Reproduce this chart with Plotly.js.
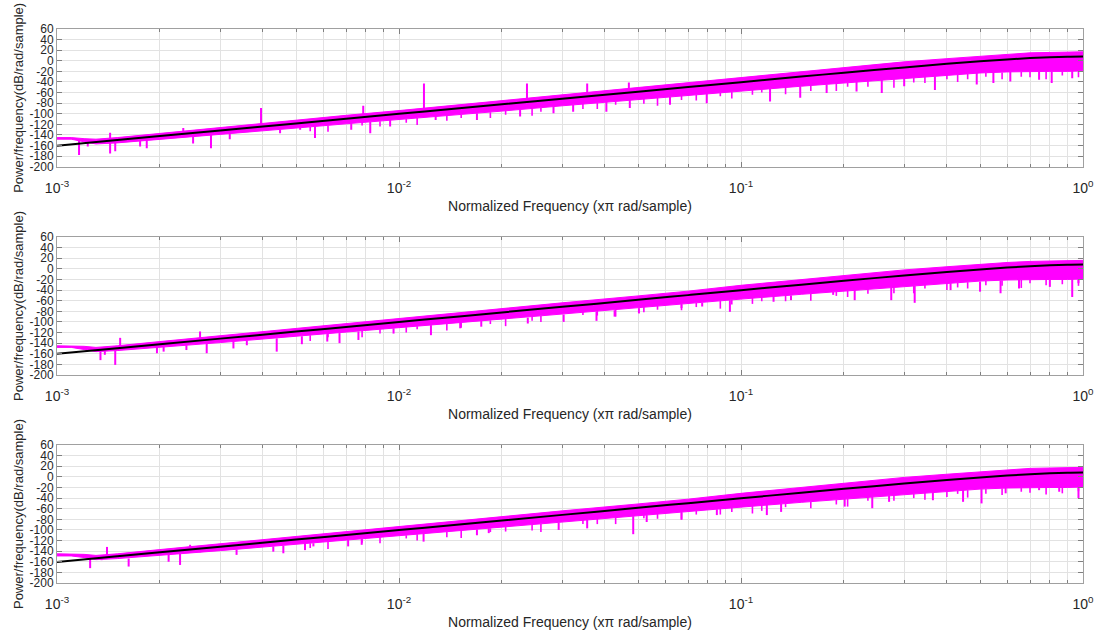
<!DOCTYPE html>
<html><head><meta charset="utf-8">
<script src="https://cdn.plot.ly/plotly-3.0.1.min.js"></script>
<style>html,body{margin:0;padding:0;background:#fff}#chart{width:1102px;height:634px}</style>
</head><body><div id="chart"></div>
<script>
// ---- reference (black) curve, shared by all panels ----
const refFreq = [0.001, 0.0015, 0.002, 0.003, 0.005, 0.007, 0.01, 0.015, 0.02, 0.03, 0.05, 0.07, 0.1, 0.15, 0.2, 0.3, 0.4, 0.5, 0.6, 0.7, 0.8, 0.9, 1.0];
const refDb   = [-160.2, -149.6, -142.1, -131.5, -118.2, -109.5, -100.2, -89.6, -82.1, -71.6, -58.3, -49.5, -40.3, -29.8, -22.5, -12.5, -5.8, -1.0, 2.5, 5.1, 6.8, 7.7, 8.1];

// ---- magenta estimate: envelope of the dense band ----
const envFreq = [0.001, 0.0011, 0.0012, 0.0013, 0.0015, 0.002, 0.003, 0.005, 0.007, 0.01, 0.015, 0.02, 0.03, 0.05, 0.07, 0.1, 0.15, 0.2, 0.3, 0.4, 0.5, 0.6, 0.7, 0.8, 0.9, 1.0];
const p1Upper = [-145, -145, -147, -148, -145, -137, -126, -112, -103, -94, -83, -75, -64, -51, -42, -32, -21, -13, -2, 4, 9, 12, 15, 16, 17, 17];
const p1Lower = [-148, -148, -153, -157, -155, -148, -139, -127, -119, -111, -102, -95, -85, -73, -65, -57, -48, -42, -33, -27, -23, -21, -20, -20, -20, -19];
const p2Upper = [-145, -145, -146, -148, -145, -137, -126, -112, -103, -94, -83, -75, -64, -51, -42, -31, -20, -12, -2, 4, 9, 12, 14, 15, 16, 16];
const p2Lower = [-148, -148, -152, -156, -154, -148, -139, -127, -119, -111, -102, -95, -85, -73, -65, -57, -48, -42, -33, -27, -23, -21, -20, -20, -20, -19];
const p3Upper = [-145, -145, -146, -148, -145, -137, -126, -112, -103, -94, -83, -75, -64, -51, -42, -31, -20, -12, -1, 5, 10, 13, 16, 17, 18, 18];
const p3Lower = [-149, -149, -152, -156, -154, -148, -139, -127, -119, -111, -102, -95, -85, -73, -65, -57, -48, -42, -33, -27, -23, -21, -20, -20, -20, -19];

// ---- larger downward dips (frequency, top, bottom) ----
const p1DipF   = [0.00116, 0.00123, 0.00143, 0.00148, 0.00175, 0.00183, 0.0025, 0.00282, 0.0032, 0.00449, 0.00514, 0.00568, 0.00725, 0.00824, 0.00942, 0.0128, 0.0169, 0.0226, 0.0283, 0.0323, 0.0404, 0.0473, 0.062, 0.0794, 0.1216, 0.149, 0.178, 0.2177, 0.258, 0.30, 0.369, 0.489, 0.547, 0.613, 0.744, 0.81, 0.93];
const p1DipTop = [-150, -153, -154, -154, -150, -149, -143, -140, -137, -130, -126, -124, -118, -115, -112, -105, -99, -93, -87, -83, -78, -74, -68, -62, -53, -48, -45, -40, -36, -33, -29, -23, -22, -21, -20, -20, -19];
const p1DipLow = [-178, -162, -175, -171, -162, -165, -156, -165, -148, -137, -130, -146, -130, -137, -124, -112, -112, -105, -99, -96, -96, -89, -83, -80, -77, -70, -61, -58, -61, -48, -55, -45, -42, -39, -36, -42, -33];

const p2DipF   = [0.00122, 0.00134, 0.00138, 0.00148, 0.00196, 0.00205, 0.00239, 0.00274, 0.00328, 0.00359, 0.00439, 0.0052, 0.00617, 0.0067, 0.00761, 0.00964, 0.0124, 0.0151, 0.0174, 0.0238, 0.0303, 0.0378, 0.0427, 0.0503, 0.067, 0.077, 0.0928, 0.1245, 0.14, 0.186, 0.215, 0.275, 0.322, 0.41, 0.5, 0.574, 0.65, 0.8, 0.93, 0.97];
const p2DipTop = [-150, -156, -155, -154, -148, -147, -144, -141, -137, -135, -131, -127, -123, -121, -118, -112, -106, -101, -98, -92, -86, -81, -78, -74, -67, -64, -59, -52, -50, -43, -40, -35, -32, -27, -24, -22, -21, -20, -19, -19];
const p2DipLow = [-156, -172, -162, -181, -159, -156, -153, -159, -150, -144, -156, -142, -137, -140, -134, -122, -125, -112, -109, -103, -100, -98, -90, -84, -74, -71, -81, -62, -59, -49, -59, -59, -64, -40, -43, -46, -37, -34, -53, -27];

const p3DipF   = [0.00125, 0.00135, 0.00162, 0.00183, 0.00212, 0.00229, 0.00262, 0.00335, 0.00429, 0.00459, 0.00531, 0.00562, 0.0071, 0.00778, 0.0118, 0.0169, 0.0183, 0.0293, 0.0355, 0.0484, 0.053, 0.067, 0.085, 0.119, 0.131, 0.201, 0.242, 0.271, 0.364, 0.446, 0.505, 0.594, 0.744, 0.852, 0.97];
const p3DipTop = [-151, -155, -154, -150, -147, -145, -142, -137, -131, -130, -126, -125, -119, -117, -107, -99, -97, -86, -81, -74, -72, -67, -61, -53, -51, -41, -37, -35, -29, -25, -23, -21, -20, -20, -19];
const p3DipLow = [-172, -157, -169, -150, -160, -166, -141, -147, -141, -144, -138, -131, -131, -128, -122, -110, -106, -100, -97, -108, -85, -81, -72, -72, -66, -56, -59, -47, -44, -47, -50, -31, -25, -28, -40];

// ---- smaller dips along the lower edge of the dense band ----
const edgeDipF   = [0.0055, 0.0062, 0.0078, 0.0088, 0.0105, 0.0113, 0.0138, 0.0152, 0.0185, 0.0205, 0.0245, 0.026, 0.0345, 0.038, 0.043, 0.052, 0.057, 0.067, 0.074, 0.087, 0.094, 0.108, 0.115, 0.135, 0.16, 0.19, 0.205, 0.235, 0.28, 0.32, 0.345, 0.4, 0.43, 0.46, 0.52, 0.58, 0.66, 0.7, 0.78, 0.87, 0.97];
const edgeDipTop = [-125, -122, -116, -114, -110, -108, -104, -102, -97, -94, -90, -89, -81, -79, -77, -72, -70, -66, -64, -60, -58, -55, -54, -51, -47, -43, -41, -38, -35, -32, -30, -27, -26, -25, -23, -22, -21, -20, -20, -20, -19];
const p1EdgeLow  = [-133, -134, -122, -124, -117, -121, -113, -108, -108, -102, -104, -96, -91, -91, -83, -81, -85, -74, -75, -67, -71, -64, -60, -63, -57, -57, -49, -49, -51, -41, -42, -35, -40, -35, -30, -35, -30, -31, -35, -28, -31];
const p2EdgeLow  = [-136, -129, -129, -122, -120, -114, -116, -111, -104, -108, -98, -100, -87, -88, -90, -82, -77, -78, -72, -75, -67, -66, -61, -61, -60, -51, -53, -47, -46, -46, -37, -40, -35, -37, -31, -32, -36, -27, -31, -29, -32];
const p3EdgeLow  = [-134, -136, -124, -125, -116, -120, -114, -115, -104, -103, -101, -104, -89, -89, -89, -78, -79, -79, -71, -71, -66, -69, -64, -57, -59, -52, -56, -45, -45, -40, -43, -38, -32, -39, -32, -34, -28, -30, -33, -31, -27];

// ---- upward spikes (frequency, base, top) ----
const p1SpikeF    = [0.00143, 0.00234, 0.00395, 0.00786, 0.01183, 0.02367, 0.0355, 0.047];
const p1SpikeBase = [-150, -137, -124, -104, -94, -77, -65, -57];
const p1SpikeTop  = [-136, -127, -89, -85, -43, -43, -43, -41];
const p2SpikeF    = [0.00153, 0.00262];
const p2SpikeBase = [-150, -137];
const p2SpikeTop  = [-130, -118];
const p3SpikeF    = [0.0014, 0.00245];
const p3SpikeBase = [-150, -143];
const p3SpikeTop  = [-132, -128];

// ---- axis labels ----
const xTickVals = [0.001, 0.01, 0.1, 1];
const xTickText = ['10<sup>-3</sup>', '10<sup>-2</sup>', '10<sup>-1</sup>', '10<sup>0</sup>'];
const xMinorVals = [0.002,0.003,0.004,0.005,0.006,0.007,0.008,0.009,0.02,0.03,0.04,0.05,0.06,0.07,0.08,0.09,0.2,0.3,0.4,0.5,0.6,0.7,0.8,0.9];
const yTickVals = [-200,-180,-160,-140,-120,-100,-80,-60,-40,-20,0,20,40,60];
const yTickText = ['-200','-180','-160','-140','-120','-100','-80','-60','-40','-20','0','20','40','60'];
const xTitle = 'Normalized Frequency (x\u03c0 rad/sample)';
const yTitle = 'Power/frequency(dB/rad/sample)';

const MAG = '#ff00ff';
function segs(f, a, b) {
  const x = [], y = [];
  for (let i = 0; i < f.length; i++) { x.push(f[i], f[i], null); y.push(a[i], b[i], null); }
  return {x, y};
}
const panels = [
  {up: p1Upper, lo: p1Lower, dF: p1DipF, dT: p1DipTop, dL: p1DipLow, eL: p1EdgeLow, sF: p1SpikeF, sB: p1SpikeBase, sT: p1SpikeTop},
  {up: p2Upper, lo: p2Lower, dF: p2DipF, dT: p2DipTop, dL: p2DipLow, eL: p2EdgeLow, sF: p2SpikeF, sB: p2SpikeBase, sT: p2SpikeTop},
  {up: p3Upper, lo: p3Lower, dF: p3DipF, dT: p3DipTop, dL: p3DipLow, eL: p3EdgeLow, sF: p3SpikeF, sB: p3SpikeBase, sT: p3SpikeTop}
];
const data = [];
panels.forEach((p, i) => {
  const xa = i === 0 ? 'x' : 'x' + (i + 1);
  const ya = i === 0 ? 'y' : 'y' + (i + 1);
  data.push({x: envFreq, y: p.up, xaxis: xa, yaxis: ya, mode: 'lines', line: {color: MAG, width: 1}, hoverinfo: 'skip', showlegend: false});
  data.push({x: envFreq, y: p.lo, xaxis: xa, yaxis: ya, mode: 'lines', line: {color: MAG, width: 1}, fill: 'tonexty', fillcolor: MAG, hoverinfo: 'skip', showlegend: false});
  const d = segs(p.dF, p.dT, p.dL);
  data.push({x: d.x, y: d.y, xaxis: xa, yaxis: ya, mode: 'lines', line: {color: MAG, width: 2}, connectgaps: false, hoverinfo: 'skip', showlegend: false});
  const e = segs(edgeDipF, edgeDipTop, p.eL);
  data.push({x: e.x, y: e.y, xaxis: xa, yaxis: ya, mode: 'lines', line: {color: MAG, width: 1.6}, connectgaps: false, hoverinfo: 'skip', showlegend: false});
  const s = segs(p.sF, p.sB, p.sT);
  data.push({x: s.x, y: s.y, xaxis: xa, yaxis: ya, mode: 'lines', line: {color: MAG, width: 2}, connectgaps: false, hoverinfo: 'skip', showlegend: false});
  data.push({x: refFreq, y: refDb, xaxis: xa, yaxis: ya, mode: 'lines', line: {color: '#000000', width: 2, shape: 'spline'}, hoverinfo: 'skip', showlegend: false});
});

const FONT = 'Liberation Sans, Arial, sans-serif';
function xAxis(anchor) {
  return {
    type: 'log', range: [-3, 0], anchor: anchor, domain: [0, 1],
    tickvals: xTickVals, ticktext: xTickText,
    ticks: 'inside', ticklen: 5, tickcolor: '#808080', ticklabelstandoff: 8,
    showline: true, linecolor: '#a0a0a0', linewidth: 1, mirror: 'ticks',
    showgrid: true, gridcolor: '#e2e2e2', gridwidth: 1, zeroline: false,
    minor: {tickvals: xMinorVals, ticks: 'inside', ticklen: 3, tickcolor: '#808080', showgrid: true, gridcolor: '#e2e2e2', gridwidth: 1},
    tickfont: {family: FONT, size: 14, color: '#262626'},
    title: {text: xTitle, font: {family: FONT, size: 14, color: '#262626'}, standoff: 6},
    automargin: false
  };
}
function yAxis(anchor, dom) {
  return {
    range: [-200, 60], anchor: anchor, domain: dom,
    tickvals: yTickVals, ticktext: yTickText,
    ticks: 'inside', ticklen: 5, tickcolor: '#808080',
    showline: true, linecolor: '#a0a0a0', linewidth: 1, mirror: 'ticks',
    showgrid: true, gridcolor: '#e2e2e2', gridwidth: 1, zeroline: false,
    tickfont: {family: FONT, size: 12, color: '#262626'},
    title: {text: yTitle, font: {family: FONT, size: 13, color: '#262626'}, standoff: 3},
    automargin: false
  };
}
const layout = {
  width: 1102, height: 634, autosize: false,
  paper_bgcolor: '#ffffff', plot_bgcolor: '#ffffff',
  margin: {l: 57, r: 19, t: 29, b: 51},
  showlegend: false,
  xaxis: xAxis('y'), xaxis2: xAxis('y2'), xaxis3: xAxis('y3'),
  yaxis: yAxis('x', [0.7514, 1]), yaxis2: yAxis('x2', [0.3755, 0.6245]), yaxis3: yAxis('x3', [0, 0.249])
};
Plotly.newPlot('chart', data, layout, {staticPlot: true, displayModeBar: false});
</script>
</body></html>
